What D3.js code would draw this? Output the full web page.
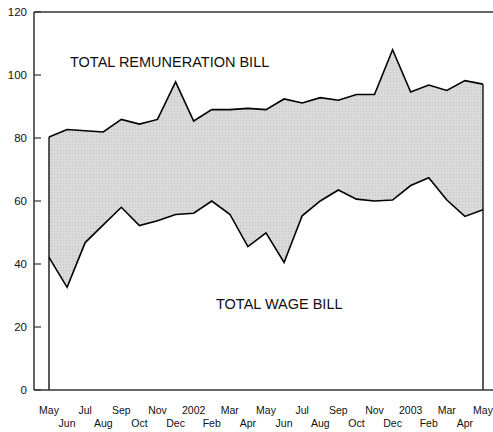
<!DOCTYPE html>
<html>
<head>
<meta charset="utf-8">
<script src="https://cdn.jsdelivr.net/npm/d3@7"></script>
<style>
  body { margin: 0; background: #fff; }
  text { font-family: "Liberation Sans", Arial, sans-serif; fill: #111; }
</style>
</head>
<body>
<div id="chart"></div>
<script>
const months = ["May", "Jun", "Jul", "Aug", "Sep", "Oct", "Nov", "Dec", "2002", "Feb", "Mar", "Apr",
  "May", "Jun", "Jul", "Aug", "Sep", "Oct", "Nov", "Dec", "2003", "Feb", "Mar", "Apr", "May"];
const remuneration = [80.3, 82.7, 82.3, 81.9, 85.9, 84.4, 85.9, 97.8, 85.4, 89.0, 89.0, 89.4,
  89.0, 92.4, 91.1, 92.8, 92.0, 93.8, 93.8, 108.0, 94.6, 96.8, 95.1, 98.2, 97.1];
const wages = [42.1, 32.6, 46.8, 52.4, 58.0, 52.2, 53.7, 55.7, 56.1, 60.0, 55.8, 45.5,
  49.9, 40.5, 55.3, 60.0, 63.5, 60.6, 60.0, 60.3, 64.9, 67.4, 60.3, 55.1, 57.2];
const yTicks = [0, 20, 40, 60, 80, 100, 120];

const width = 493, height = 432;
const svg = d3.select("#chart").append("svg")
  .attr("width", width)
  .attr("height", height);

const axisX = 34;
const x = d3.scaleLinear().domain([0, months.length - 1]).range([49, 483]);
const y = d3.scaleLinear().domain([0, 120]).range([390, 12]);

// dotted grey fill like the original
const pattern = svg.append("defs").append("pattern")
  .attr("id", "dots")
  .attr("width", 3).attr("height", 3)
  .attr("patternUnits", "userSpaceOnUse");
pattern.append("rect").attr("width", 3).attr("height", 3).attr("fill", "#dadada");
pattern.append("rect").attr("width", 1).attr("height", 1).attr("fill", "#c2c2c2");

const rows = months.map((m, i) => ({ i, hi: remuneration[i], lo: wages[i] }));

svg.append("path")
  .datum(rows)
  .attr("fill", "url(#dots)")
  .attr("d", d3.area().x(d => x(d.i)).y0(d => y(d.lo)).y1(d => y(d.hi)));

svg.append("path")
  .datum(rows)
  .attr("fill", "none").attr("stroke", "#000").attr("stroke-width", 1.6)
  .attr("d", d3.line().x(d => x(d.i)).y(d => y(d.hi)));
svg.append("path")
  .datum(rows)
  .attr("fill", "none").attr("stroke", "#000").attr("stroke-width", 1.6)
  .attr("d", d3.line().x(d => x(d.i)).y(d => y(d.lo)));

// vertical edges at first and last month
[rows[0], rows[rows.length - 1]].forEach(d => {
  svg.append("line")
    .attr("x1", x(d.i)).attr("x2", x(d.i))
    .attr("y1", y(d.hi)).attr("y2", y(0))
    .attr("stroke", "#000").attr("stroke-width", 1.3);
});

// frame: left, top and bottom lines
const frame = svg.append("g").attr("stroke", "#333").attr("stroke-width", 1.5);
frame.append("line").attr("x1", axisX).attr("x2", axisX).attr("y1", y(120)).attr("y2", y(0));
frame.append("line").attr("x1", axisX).attr("x2", width).attr("y1", y(120)).attr("y2", y(120));
frame.append("line").attr("x1", axisX).attr("x2", width).attr("y1", y(0)).attr("y2", y(0));

const yAxis = svg.append("g");
yAxis.selectAll("line")
  .data(yTicks)
  .join("line")
  .attr("x1", axisX).attr("x2", axisX + 7)
  .attr("y1", d => y(d)).attr("y2", d => y(d))
  .attr("stroke", "#333").attr("stroke-width", 1.2);
yAxis.selectAll("text")
  .data(yTicks)
  .join("text")
  .attr("x", 27)
  .attr("y", d => y(d))
  .attr("dy", "0.35em")
  .attr("text-anchor", "end")
  .style("font-size", "11.5px")
  .text(d => d);

svg.append("g").selectAll("text")
  .data(months)
  .join("text")
  .attr("x", (d, i) => x(i))
  .attr("y", (d, i) => i % 2 === 0 ? 410 : 423)
  .attr("dy", "0.35em")
  .attr("text-anchor", "middle")
  .style("font-size", "10.5px")
  .text(d => d);

svg.append("text")
  .attr("x", 70).attr("y", 62).attr("dy", "0.35em")
  .style("font-size", "14.5px")
  .text("TOTAL REMUNERATION BILL");
svg.append("text")
  .attr("x", 216).attr("y", 304).attr("dy", "0.35em")
  .style("font-size", "14.5px")
  .text("TOTAL WAGE BILL");
</script>
</body>
</html>
